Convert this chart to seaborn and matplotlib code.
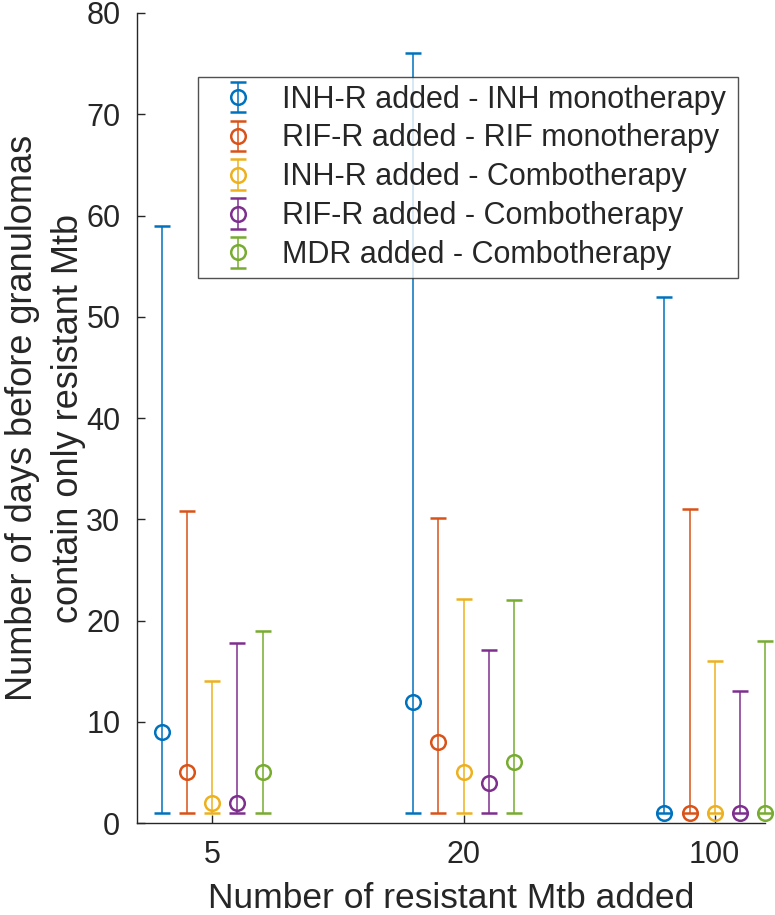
import matplotlib
matplotlib.use("Agg")
import matplotlib.pyplot as plt
import numpy as np
import pandas as pd
import seaborn as sns

# categories on the x axis
n_added = ["5", "20", "100"]

series_names = [
    "INH-R added - INH monotherapy",
    "RIF-R added - RIF monotherapy",
    "INH-R added - Combotherapy",
    "RIF-R added - Combotherapy",
    "MDR added - Combotherapy",
]

# median days (circle) and range (lower / upper whisker ends)
median_days = [
    [9, 12, 1],
    [5, 8, 1],
    [2, 5, 1],
    [2, 4, 1],
    [5, 6, 1],
]
low_days = [
    [1, 1, 1],
    [1, 1, 1],
    [1, 1, 1],
    [1, 1, 1],
    [1, 1, 1],
]
high_days = [
    [59, 76, 52],
    [30.8, 30.1, 31],
    [14, 22.1, 16],
    [17.8, 17.1, 13],
    [19, 22, 18],
]

matlab_colors = ["#0072BD", "#D95319", "#EDB120", "#7E2F8E", "#77AC30"]

sns.set_style("ticks")
plt.rcParams["font.family"] = ["Liberation Sans", "DejaVu Sans"]

fig = plt.figure(figsize=(7.75, 9.15), dpi=100)
ax = fig.add_axes([0.1768, 0.1005, 0.8102, 0.8853])

palette = sns.color_palette(matlab_colors)
x_base = np.arange(1, len(n_added) + 1)
offsets = np.linspace(-0.2, 0.2, len(series_names))

for i, name in enumerate(series_names):
    df = pd.DataFrame({
        "x": x_base + offsets[i],
        "mid": median_days[i],
        "lo": low_days[i],
        "hi": high_days[i],
    })
    yerr = np.vstack([df["mid"] - df["lo"], df["hi"] - df["mid"]])
    ax.errorbar(
        df["x"], df["mid"], yerr=yerr,
        fmt="o", color=palette[i], mfc="none", mec=palette[i],
        ms=10.5, mew=1.8, elinewidth=1.1, capsize=5.5, capthick=1.8,
        label=name, clip_on=False,
    )

ax.set_xlim(0.7, 3.2)
ax.set_ylim(0, 80)
ax.set_xticks(x_base)
ax.set_xticklabels(n_added)
ax.set_yticks(np.arange(0, 81, 10))

sns.despine(ax=ax)
for sp in ["left", "bottom"]:
    ax.spines[sp].set_color("#262626")
    ax.spines[sp].set_linewidth(1.0)
ax.tick_params(direction="in", length=6, width=1.0, colors="#262626",
               labelsize=22, labelcolor="#262626", pad=12)

ax.set_xlabel("Number of resistant Mtb added", fontsize=25.5, color="#262626", labelpad=9)
ax.set_ylabel("Number of days before granulomas\ncontain only resistant Mtb",
              fontsize=26, color="#262626", labelpad=0, linespacing=1.4)

leg = ax.legend(
    loc="upper left", bbox_to_anchor=(0.097, 0.921, 0.86, 0.0), mode="expand",
    fontsize=22, frameon=True, fancybox=False, edgecolor="#262626",
    handlelength=2.1, handletextpad=0.4, borderpad=0.25, labelspacing=0.29,
    borderaxespad=0,
)
leg.get_frame().set_linewidth(1.0)

fig.savefig("out.png", dpi=100)
